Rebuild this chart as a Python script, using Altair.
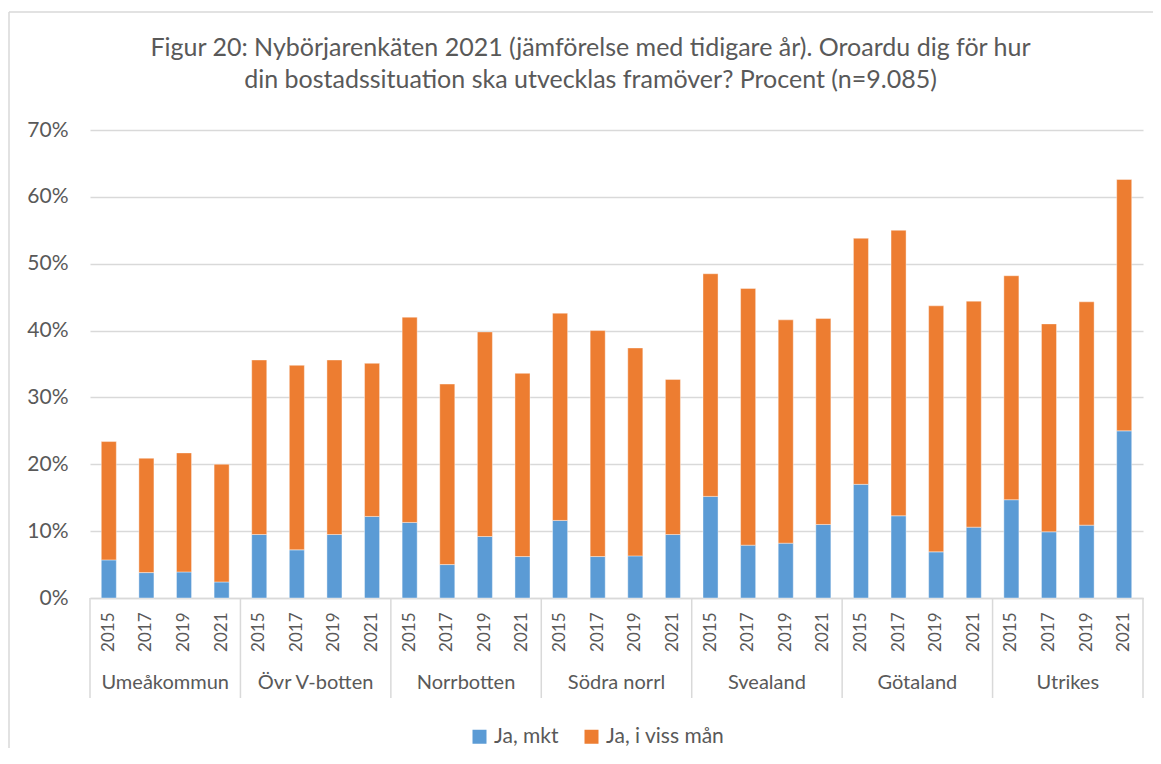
import altair as alt
import pandas as pd

regions = ["Umeåkommun", "Övr V-botten", "Norrbotten", "Södra norrl", "Svealand", "Götaland", "Utrikes"]
years = ["2015", "2017", "2019", "2021"]
series = ["Ja, mkt", "Ja, i viss mån"]
title_lines = ["Figur 20: Nybörjarenkäten 2021 (jämförelse med tidigare år). Oroardu dig för hur",
               "din bostadssituation ska utvecklas framöver? Procent (n=9.085)"]

ja_mkt = [
    5.7, 3.8, 3.9, 2.4,
    9.5, 7.2, 9.5, 12.2,
    11.3, 5.0, 9.2, 6.2,
    11.6, 6.2, 6.3, 9.5,
    15.2, 7.9, 8.2, 11.0,
    17.0, 12.3, 6.9, 10.6,
    14.7, 9.9, 10.9, 25.0,
]
ja_viss = [
    17.7, 17.1, 17.8, 17.6,
    26.1, 27.6, 26.1, 22.9,
    30.7, 27.0, 30.6, 27.4,
    31.0, 33.8, 31.1, 23.2,
    33.3, 38.4, 33.4, 30.8,
    36.8, 42.7, 36.8, 33.8,
    33.5, 31.1, 33.4, 37.6,
]
y_ticks = [0, 10, 20, 30, 40, 50, 60, 70]

rows = []
keys = []
i = 0
for r in regions:
    for y in years:
        k = f"{r}|{y}"
        keys.append(k)
        rows.append({"key": k, "region": r, "year": y, "serie": series[0], "ord": 0, "val": ja_mkt[i]})
        rows.append({"key": k, "region": r, "year": y, "serie": series[1], "ord": 1, "val": ja_viss[i]})
        i += 1
df = pd.DataFrame(rows)
reg_df = pd.DataFrame({"region": regions})
one = pd.DataFrame({"a": [0]})
title_df = pd.DataFrame({"t": ["\n".join(title_lines)]})

W, H = 1053, 468
FONT = "Lato"
GREY = "#595959"
GRID = "#d9d9d9"

bars = alt.Chart(df).mark_bar(stroke="white", strokeWidth=0.4).encode(
    x=alt.X("key:N", sort=keys,
            scale=alt.Scale(paddingInner=0.6, paddingOuter=0.3),
            axis=alt.Axis(title=None, labelExpr="split(datum.value, '|')[1]", labelAngle=-90,
                          labelAlign="right", labelBaseline="middle", labelPadding=14,
                          labelFontSize=17, labelColor=GREY, labelFont=FONT,
                          ticks=False, domainColor=GRID, domainWidth=1.5, grid=False)),
    y=alt.Y("val:Q", stack="zero",
            scale=alt.Scale(domain=[0, 70], nice=False),
            axis=alt.Axis(title=None, values=y_ticks, labelExpr="datum.value + '%'",
                          labelFontSize=21, labelColor=GREY, labelFont=FONT, labelPadding=22,
                          ticks=False, domain=False, gridColor=GRID, gridWidth=1.5)),
    color=alt.Color("serie:N", sort=series,
                    scale=alt.Scale(domain=series, range=["#5B9BD5", "#ED7D31"]),
                    legend=alt.Legend(title=None, orient="none", legendX=379, legendY=596,
                                      direction="horizontal", symbolType="square", symbolSize=196,
                                      symbolStrokeWidth=0, labelFontSize=21, labelColor=GREY,
                                      labelFont=FONT, columnPadding=22, labelOffset=4)),
    order=alt.Order("ord:Q", sort="ascending"),
)

region_scale = alt.Scale(domain=regions, paddingInner=0, paddingOuter=0)

reg_text = alt.Chart(reg_df).mark_text(fontSize=20, color=GREY, font=FONT, baseline="middle").encode(
    x=alt.X("region:N", sort=regions, scale=region_scale, axis=None),
    y=alt.value(H + 85),
    text="region:N",
)

seps = alt.Chart(reg_df).mark_rule(color=GRID, strokeWidth=1.5).encode(
    x=alt.X("region:N", sort=regions, scale=region_scale, axis=None, bandPosition=0),
    y=alt.value(H),
    y2=alt.value(H + 100),
)
sep_end = alt.Chart(one).mark_rule(color=GRID, strokeWidth=1.5).encode(
    x=alt.value(W),
    y=alt.value(H),
    y2=alt.value(H + 100),
)
border_top = alt.Chart(one).mark_rule(color=GRID, strokeWidth=1.5).encode(
    x=alt.value(-81), x2=alt.value(W + 12), y=alt.value(-118),
)
border_left = alt.Chart(one).mark_rule(color=GRID, strokeWidth=1.5).encode(
    x=alt.value(-81), y=alt.value(-118), y2=alt.value(H + 160),
)
title_text = alt.Chart(title_df).mark_text(
    fontSize=25, font=FONT, color=GREY, align="center", baseline="middle",
    lineBreak="\n", lineHeight=32,
).encode(
    x=alt.value(W / 2 - 26),
    y=alt.value(-82),
    text="t:N",
)

chart = alt.layer(bars, reg_text, seps, sep_end, border_top, border_left, title_text).resolve_scale(
    x="independent"
).properties(
    width=W, height=H,
    autosize=alt.AutoSizeParams(type="none"),
    padding={"left": 82, "top": 122, "right": 10, "bottom": 150},
).configure_view(stroke=None)

chart.save("out.html", embed_options={"renderer": "svg", "actions": False})
